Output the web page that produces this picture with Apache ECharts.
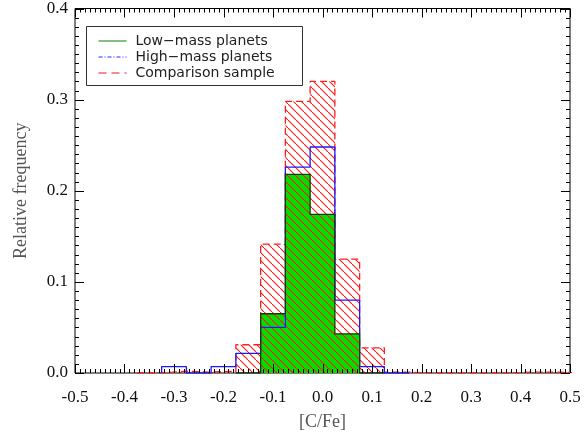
<!DOCTYPE html>
<html>
<head>
<meta charset="utf-8">
<script src="https://cdn.jsdelivr.net/npm/echarts@6/dist/echarts.min.js"></script>
<style>
  html, body { margin: 0; padding: 0; background: #fff; }
  #cfeChart { width: 587px; height: 439px; }
</style>
</head>
<body>
<div id="cfeChart"></div>
<script>
// bin centres of the histograms, width 0.05
var binCenters = [-0.35, -0.30, -0.25, -0.20, -0.15, -0.10, -0.05, 0.00, 0.05,
  0.10, 0.15, 0.20, 0.25, 0.30, 0.35, 0.40, 0.45, 0.50];
var binWidth = 0.05;
// null = bin not drawn
var lowMass = [null, null, null, null, 0, 0.065, 0.218, 0.174, 0.043,
  0, null, null, null, null, null, null, null, null];
var highMass = [null, 0.007, 0, 0.007, 0.0215, 0.050, 0.226, 0.248, 0.080,
  0.007, 0, null, null, null, null, null, null, null];
var comparison = [0, 0.002, 0.001, 0.002, 0.031, 0.1415, 0.298, 0.320, 0.125,
  0.0276, 0.001, 0, 0, 0, 0, 0.001, 0.001, 0];
var legendNames = ["Low\u2212mass planets", "High\u2212mass planets", "Comparison sample"];

// turn a histogram into the points of its step outline
function stepPoints(vals) {
  var pts = [];
  var last = null;
  vals.forEach(function (v, i) {
    if (v === null) return;
    var lo = binCenters[i] - binWidth / 2;
    var hi = binCenters[i] + binWidth / 2;
    if (!pts.length) pts.push([lo, 0]);
    pts.push([lo, v]);
    pts.push([hi, v]);
    last = hi;
  });
  if (last !== null) pts.push([last, 0]);
  return pts;
}

// red diagonal hatching
var hatch = document.createElement("canvas");
hatch.width = 8;
hatch.height = 8;
var hctx = hatch.getContext("2d");
hctx.strokeStyle = "#ff1a1a";
hctx.lineWidth = 1.1;
hctx.beginPath();
hctx.moveTo(-1, -1);
hctx.lineTo(9, 9);
hctx.stroke();

var serif = "Liberation Serif";
var tickLabel = function (v) { return v.toFixed(1); };
var legendFont = "14px 'DejaVu Sans'";

var legendGraphic = {
  type: "group",
  id: "legendBox",
  left: 86,
  top: 26,
  z: 100,
  children: [
    { type: "rect", shape: { x: 0, y: 0, width: 216, height: 59 },
      style: { fill: "#fff", stroke: "#333", lineWidth: 1 } },
    { type: "line", shape: { x1: 12, y1: 14.5, x2: 40, y2: 14.5 },
      style: { stroke: "#0a7a0a", lineWidth: 1 } },
    { type: "line", shape: { x1: 12, y1: 30.5, x2: 40, y2: 30.5 },
      style: { stroke: "#2a2aff", lineWidth: 1, lineDash: [4, 2, 1, 2] } },
    { type: "line", shape: { x1: 12, y1: 46.5, x2: 40, y2: 46.5 },
      style: { stroke: "#ff6060", lineWidth: 1.5, lineDash: [8, 5] } },
    { type: "text", x: 49, y: 14.5,
      style: { text: legendNames[0], font: legendFont, fill: "#222", verticalAlign: "middle" } },
    { type: "text", x: 49, y: 30.5,
      style: { text: legendNames[1], font: legendFont, fill: "#222", verticalAlign: "middle" } },
    { type: "text", x: 49, y: 46.5,
      style: { text: legendNames[2], font: legendFont, fill: "#222", verticalAlign: "middle" } }
  ]
};

var myChart = echarts.init(document.getElementById("cfeChart"));
var option = {
  animation: false,
  backgroundColor: "#fff",
  grid: { left: 75, right: 17, top: 6, bottom: 66, show: true, borderColor: "#000", borderWidth: 1, backgroundColor: "transparent" },
  xAxis: {
    type: "value",
    min: -0.5,
    max: 0.5,
    interval: 0.1,
    name: "[C/Fe]",
    nameLocation: "middle",
    nameGap: 40,
    nameTextStyle: { fontFamily: serif, fontSize: 18, color: "#555" },
    axisLine: { show: false, onZero: false },
    axisTick: { show: false },
    splitLine: { show: false },
    axisLabel: {
      margin: 16, fontFamily: serif, fontSize: 17, color: "#111",
      formatter: tickLabel, showMinLabel: true, showMaxLabel: true
    }
  },
  yAxis: {
    type: "value",
    min: 0,
    max: 0.4,
    interval: 0.1,
    name: "Relative frequency",
    nameLocation: "middle",
    nameGap: 45,
    nameTextStyle: { fontFamily: serif, fontSize: 18, color: "#555" },
    axisLine: { show: false, onZero: false },
    axisTick: { show: false },
    splitLine: { show: false },
    axisLabel: { margin: 7, fontFamily: serif, fontSize: 17, color: "#111", formatter: tickLabel }
  },
  series: [
    {
      // green filling of the low-mass histogram
      type: "line",
      data: stepPoints(lowMass),
      symbol: "none",
      silent: true,
      lineStyle: { width: 0, opacity: 0 },
      areaStyle: { color: "#00e000", opacity: 1 },
      z: 1
    },
    {
      name: legendNames[2],
      type: "line",
      data: stepPoints(comparison),
      symbol: "none",
      lineStyle: { color: "#ff2020", width: 1.3, type: [7, 4] },
      areaStyle: { color: { image: hatch, repeat: "repeat" }, opacity: 1 },
      z: 2
    },
    {
      name: legendNames[1],
      type: "line",
      data: stepPoints(highMass),
      symbol: "none",
      lineStyle: { color: "#1a1aff", width: 1.3 },
      z: 3
    },
    {
      name: legendNames[0],
      type: "line",
      data: stepPoints(lowMass),
      symbol: "none",
      lineStyle: { color: "#0b3d0b", width: 1.3 },
      z: 4
    }
  ],
  graphic: [legendGraphic]
};
myChart.setOption(option, true);

// IDL style inward ticks on all four sides, placed through the axes
function addTicks() {
  var ticks = [];
  var x0 = myChart.convertToPixel({ xAxisIndex: 0 }, -0.5);
  var x1 = myChart.convertToPixel({ xAxisIndex: 0 }, 0.5);
  var yb = myChart.convertToPixel({ yAxisIndex: 0 }, 0);
  var yt = myChart.convertToPixel({ yAxisIndex: 0 }, 0.4);
  var i, v, px, len;
  for (i = 0; i <= 100; i++) {
    v = -0.5 + i * 0.01;
    px = Math.round(myChart.convertToPixel({ xAxisIndex: 0 }, v)) + 0.5;
    len = i % 10 === 0 ? 9 : 4;
    ticks.push({ type: "line", silent: true, z: 50, shape: { x1: px, y1: yb, x2: px, y2: yb - len }, style: { stroke: "#000", lineWidth: 1 } });
    ticks.push({ type: "line", silent: true, z: 50, shape: { x1: px, y1: yt, x2: px, y2: yt + len }, style: { stroke: "#000", lineWidth: 1 } });
  }
  for (i = 0; i <= 40; i++) {
    v = i * 0.01;
    px = Math.round(myChart.convertToPixel({ yAxisIndex: 0 }, v)) + 0.5;
    len = i % 10 === 0 ? 9 : 4;
    ticks.push({ type: "line", silent: true, z: 50, shape: { x1: x0, y1: px, x2: x0 + len, y2: px }, style: { stroke: "#000", lineWidth: 1 } });
    ticks.push({ type: "line", silent: true, z: 50, shape: { x1: x1, y1: px, x2: x1 - len, y2: px }, style: { stroke: "#000", lineWidth: 1 } });
  }
  myChart.setOption({ graphic: [legendGraphic, { type: "group", id: "ticks", children: ticks }] });
}
addTicks();
</script>
</body>
</html>
